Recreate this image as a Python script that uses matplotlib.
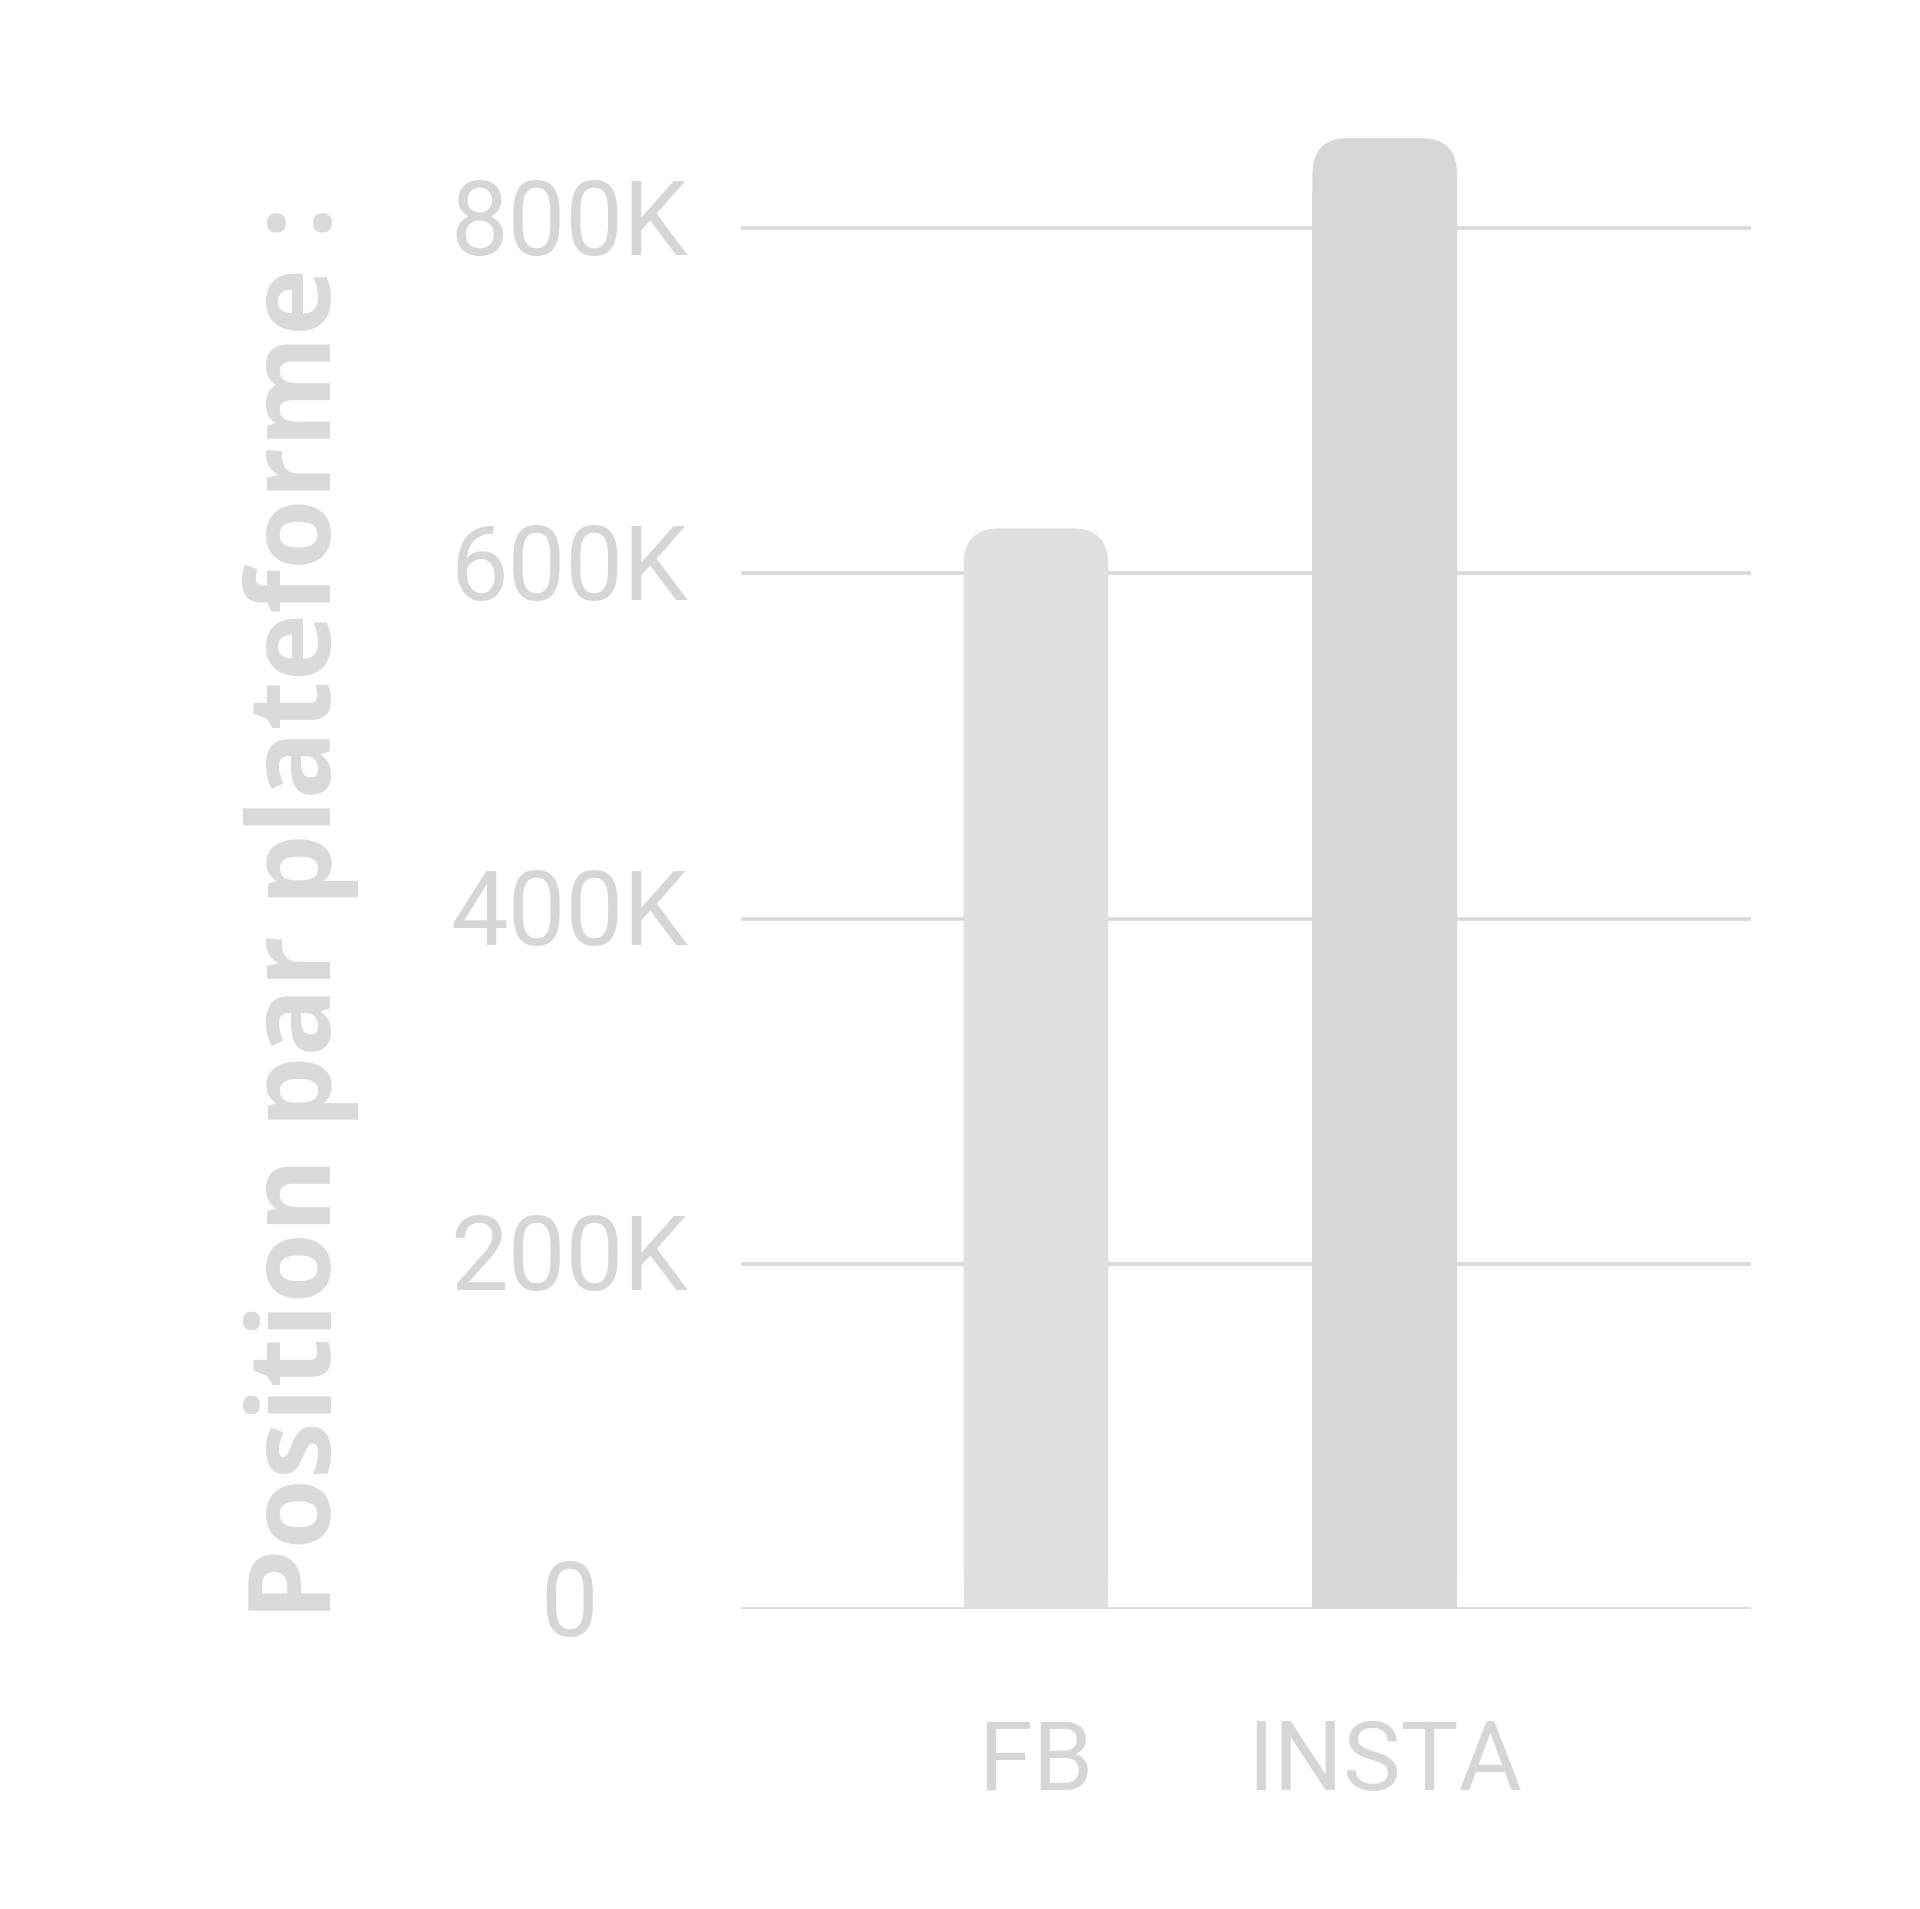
import matplotlib
matplotlib.use("Agg")
import matplotlib.pyplot as plt
import matplotlib.transforms as mtransforms
from matplotlib.patches import FancyBboxPatch, Rectangle

# données
platforms = ["FB", "INSTA"]
positions = [626000, 852000]
bar_colors = ["#e0e0e0", "#d7d7d7"]
yticks = [0, 200000, 400000, 600000, 800000]
ytick_labels = ["0", "200K", "400K", "600K", "800K"]
ylabel = "Position par plateforme :"

text_color = "#d6d6d6"
grid_color = "#d9d9d9"

fig = plt.figure(figsize=(19.2, 19.09), dpi=100)
ax = fig.add_axes([0.386, 0.157, 0.526, 0.814])

ax.set_xlim(-0.845, 2.05)
ax.set_ylim(0, 900000)

# lignes de grille
for t in yticks:
    ax.axhline(t, color=grid_color, lw=2.6, zorder=1)

# barres avec coins arrondis en haut
width = 0.415
rx = 0.1
ry = 21000
for i, (v, c) in enumerate(zip(positions, bar_colors)):
    x0 = i - width / 2
    top = FancyBboxPatch((x0, 0), width, v,
                         boxstyle=f"round,pad=0,rounding_size={rx}",
                         mutation_aspect=ry / rx,
                         fc=c, ec="none", zorder=2)
    ax.add_patch(top)
    ax.add_patch(Rectangle((x0, 0), width, v - ry * 1.5, fc=c, ec="none", zorder=2))

ax.set_xticks(range(len(platforms)))
ax.set_xticklabels(platforms, fontsize=70, color=text_color, fontfamily="Roboto")
ax.tick_params(axis="x", length=0, pad=78)

# étiquettes de l'axe y, centrées et un peu au-dessus des lignes
ax.set_yticks([])
shift = mtransforms.ScaledTranslation(0, 0.02, fig.dpi_scale_trans)
trans = mtransforms.blended_transform_factory(ax.transAxes, ax.transData) + shift
for t, lab in zip(yticks, ytick_labels):
    ax.text(-0.170, t, lab, transform=trans, ha="center", va="center",
            fontsize=74, color=text_color, fontfamily="Roboto", clip_on=False)

for s in ax.spines.values():
    s.set_visible(False)

fig.text(0.157, 0.522, ylabel, rotation=90, ha="center", va="center",
         fontsize=82, fontweight="bold", color="#dadada", fontfamily="Open Sans")

fig.savefig("out.png", dpi=100, facecolor="white")
